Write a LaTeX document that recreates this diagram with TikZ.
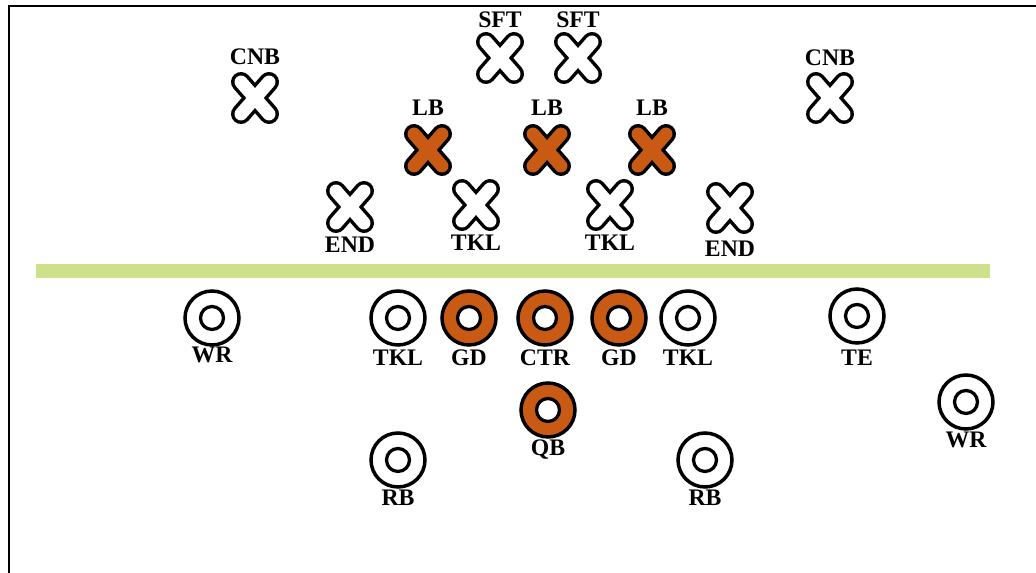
\documentclass[tikz,border=0pt]{standalone}
\usepackage{fontspec}
\setmainfont{Liberation Serif}
\usetikzlibrary{positioning}
\definecolor{myorange}{RGB}{200,90,20}
\definecolor{mygreen}{RGB}{206,224,140}

\begin{document}
\begin{tikzpicture}[x=0.02cm,y=-0.02cm,
      lbl/.style={font=\bfseries\fontsize{13.5}{14}\selectfont,inner sep=0pt},
      defx/.pic={
        \draw[line width=0.40cm,line cap=round,black] (-14,-16) -- (14,16) (-14,16) -- (14,-16);
        \draw[line width=0.26cm,line cap=round,#1] (-14,-16) -- (14,16) (-14,16) -- (14,-16);
      },
      offo/.pic={
        \fill[#1] (0,0) circle (27);
        \draw[line width=0.07cm] (0,0) circle (27);
        \draw[line width=0.065cm,fill=white] (0,0) circle (11.5);
      }]
    \useasboundingbox (0,0) rectangle (1036,573);
    \draw[line width=0.045cm] (9,573) -- (9,6) -- (1036,6);
    % line of scrimmage
    \draw[line width=0.28cm,mygreen] (36,271) -- (990,271);
    % defense
    \pic (cnbL) at (255,98) {defx=white};
    \node[lbl] (cnbLt) at (255,57) {CNB};
    \pic (sftL) at (500,58) {defx=white};
    \node[lbl] (sftLt) at (500,20) {SFT};
    \pic (sftR) at (578,58) {defx=white};
    \node[lbl] (sftRt) at (578,20) {SFT};
    \pic (cnbR) at (830,98) {defx=white};
    \node[lbl] (cnbRt) at (830,58) {CNB};
    \pic (lbL) at (428,150) {defx=myorange};
    \node[lbl] (lbLt) at (428,108) {LB};
    \pic (lbM) at (547,150) {defx=myorange};
    \node[lbl] (lbMt) at (547,108) {LB};
    \pic (lbR) at (652,150) {defx=myorange};
    \node[lbl] (lbRt) at (652,108) {LB};
    \pic (endL) at (350,207) {defx=white};
    \node[lbl] (endLt) at (350,245) {END};
    \pic (tklL) at (476,205) {defx=white};
    \node[lbl] (tklLt) at (476,243) {TKL};
    \pic (tklR) at (610,205) {defx=white};
    \node[lbl] (tklRt) at (610,243) {TKL};
    \pic (endR) at (730,208) {defx=white};
    \node[lbl] (endRt) at (730,249) {END};
    % offense
    \pic (wrL) at (212,318) {offo=white};
    \node[lbl] (wrLt) at (212,355) {WR};
    \pic (otL) at (398,318) {offo=white};
    \node[lbl] (otLt) at (398,358) {TKL};
    \pic (gdL) at (469,318) {offo=myorange};
    \node[lbl] (gdLt) at (469,358) {GD};
    \pic (ctr) at (545,318) {offo=myorange};
    \node[lbl] (ctrt) at (545,358) {CTR};
    \pic (gdR) at (619,318) {offo=myorange};
    \node[lbl] (gdRt) at (619,358) {GD};
    \pic (otR) at (688,318) {offo=white};
    \node[lbl] (otRt) at (688,358) {TKL};
    \pic (te) at (857,316) {offo=white};
    \node[lbl] (tet) at (857,358) {TE};
    \pic (wrR) at (966,402) {offo=white};
    \node[lbl] (wrRt) at (966,440) {WR};
    \pic (qb) at (548,410) {offo=myorange};
    \node[lbl] (qbt) at (548,450) {QB};
    \pic (rbL) at (398,460) {offo=white};
    \node[lbl] (rbLt) at (398,498) {RB};
    \pic (rbR) at (705,460) {offo=white};
    \node[lbl] (rbRt) at (705,498) {RB};
\end{tikzpicture}
\end{document}
